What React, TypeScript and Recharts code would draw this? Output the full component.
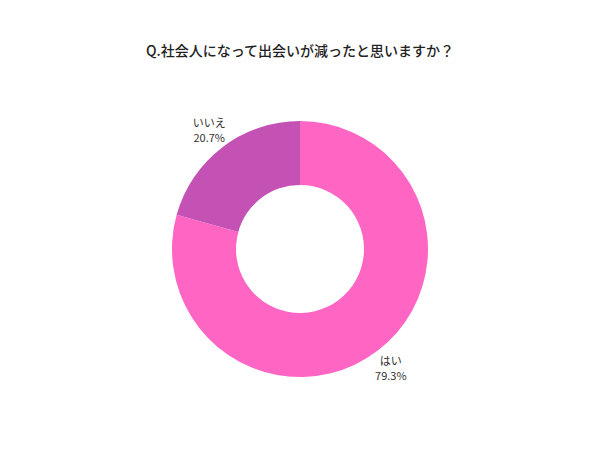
import { PieChart, Pie, Cell } from 'recharts';

const labels = ['はい', 'いいえ'];
const values = [79.3, 20.7];
const colors = ['#FF66C4', '#C452B5'];

const data = labels.map((name, i) => ({ name, value: values[i] }));

const RADIAN = Math.PI / 180;

function renderLabel(props: any) {
  const { cx, cy, midAngle, outerRadius, name, value } = props;
  const r = outerRadius + 22;
  const x = cx + r * Math.cos(-midAngle * RADIAN);
  const y = cy + r * Math.sin(-midAngle * RADIAN);
  return (
    <text x={x} y={y} textAnchor="middle" fill="#333" fontSize={11} fontFamily="'Noto Sans CJK JP', sans-serif">
      <tspan x={x} dy={-3}>{name}</tspan>
      <tspan x={x} dy={15}>{`${value.toFixed(1)}%`}</tspan>
    </text>
  );
}

export default function App() {
  return (
    <div style={{ position: 'fixed', left: 0, top: 0, width: 600, height: 450, background: '#fff' }}>
      <div
        style={{
          position: 'absolute', top: 40, left: 0, width: 600, textAlign: 'center',
          fontFamily: "'Noto Sans CJK JP', sans-serif", fontSize: 14, fontWeight: 500, color: '#222',
        }}
      >
        Q.社会人になって出会いが減ったと思いますか？
      </div>
      <PieChart width={600} height={450} margin={{ top: 0, right: 0, bottom: 0, left: 0 }}>
        <Pie
          data={data} dataKey="value" nameKey="name" cx={300} cy={249}
          innerRadius={64} outerRadius={128} startAngle={90} endAngle={-270}
          stroke="none" label={renderLabel} labelLine={false} isAnimationActive={false}
        >
          {data.map((_, i) => <Cell key={i} fill={colors[i]} />)}
        </Pie>
      </PieChart>
    </div>
  );
}
